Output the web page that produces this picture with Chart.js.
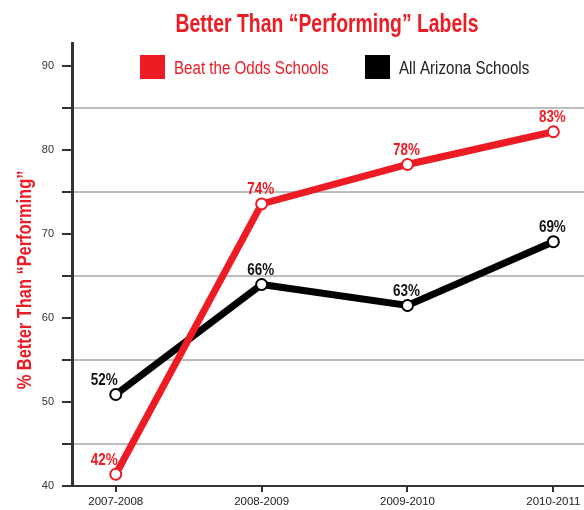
<!DOCTYPE html>
<html>
<head>
<meta charset="utf-8">
<script src="https://cdn.jsdelivr.net/npm/chart.js@4.4.1/dist/chart.umd.min.js"></script>
<style>
  html, body { margin: 0; padding: 0; background: #fff; }
  #wrap { width: 584px; height: 510px; }
</style>
</head>
<body>
<div id="wrap"><canvas id="c" width="584" height="510"></canvas></div>
<script>
const categories = ['2007-2008', '2008-2009', '2009-2010', '2010-2011'];
const beatOdds = [41.4, 73.6, 78.3, 82.2];
const arizona = [50.9, 64.0, 61.5, 69.1];
const beatOddsLabels = ['42%', '74%', '78%', '83%'];
const arizonaLabels = ['52%', '66%', '63%', '69%'];
const seriesNames = ['Beat the Odds Schools', 'All Arizona Schools'];
const chartTitle = 'Better Than \u201cPerforming\u201d Labels';
const yTitle = '% Better Than \u201cPerforming\u201d';

const RED = '#ed1c24';
const BLACK = '#000000';
const FONT = "'Liberation Sans', Arial, sans-serif";

// draw text horizontally condensed (reference uses a condensed face)
function condensedText(ctx, text, x, y, font, sx, align, color, rot) {
  ctx.save();
  ctx.translate(x, y);
  if (rot) ctx.rotate(rot);
  ctx.scale(sx, 1);
  ctx.font = font;
  ctx.fillStyle = color;
  ctx.textAlign = align;
  ctx.textBaseline = 'alphabetic';
  ctx.fillText(text, 0, 0);
  ctx.restore();
}

const textPlugin = {
  id: 'titleLegend',
  afterDraw(chart) {
    const ctx = chart.ctx;
    condensedText(ctx, chartTitle, 327, 31.5, 'bold 26px ' + FONT, 0.746, 'center', RED);
    condensedText(ctx, yTitle, 30.5, 280, 'bold 20px ' + FONT, 0.82, 'center', RED, -Math.PI / 2);
    const boxX = [140, 365];
    const textColors = [RED, '#222'];
    chart.data.datasets.forEach((ds, i) => {
      ctx.save();
      ctx.fillStyle = ds.borderColor;
      ctx.fillRect(boxX[i], 55, 25, 24);
      ctx.restore();
      condensedText(ctx, ds.label, boxX[i] + 34, 73.5, '18px ' + FONT, 0.84, 'left', textColors[i]);
    });
  }
};

const labelPlugin = {
  id: 'pointLabels',
  afterDatasetsDraw(chart) {
    const ctx = chart.ctx;
    const sets = [beatOddsLabels, arizonaLabels];
    const colors = [RED, '#111'];
    chart.data.datasets.forEach((ds, di) => {
      const meta = chart.getDatasetMeta(di);
      meta.data.forEach((pt, i) => {
        if (i === 0) {
          condensedText(ctx, sets[di][i], pt.x + 2, pt.y - 9.5, 'bold 16px ' + FONT, 0.84, 'right', colors[di]);
        } else {
          condensedText(ctx, sets[di][i], pt.x - 1, pt.y - 9.5, 'bold 16px ' + FONT, 0.84, 'center', colors[di]);
        }
      });
    });
  }
};

new Chart(document.getElementById('c'), {
  type: 'line',
  data: {
    datasets: [
      {
        label: seriesNames[0],
        data: beatOdds.map((v, i) => ({ x: i, y: v })),
        borderColor: RED,
        backgroundColor: '#fff',
        borderWidth: 7,
        pointRadius: 5.5,
        pointBorderWidth: 2,
        pointBorderColor: RED,
        pointBackgroundColor: '#fff',
        tension: 0
      },
      {
        label: seriesNames[1],
        data: arizona.map((v, i) => ({ x: i, y: v })),
        borderColor: BLACK,
        backgroundColor: '#fff',
        borderWidth: 7,
        pointRadius: 5.5,
        pointBorderWidth: 2,
        pointBorderColor: BLACK,
        pointBackgroundColor: '#fff',
        tension: 0
      }
    ]
  },
  options: {
    responsive: false,
    animation: false,
    layout: { autoPadding: false, padding: { top: 43, left: 0, right: 0, bottom: 0 } },
    plugins: {
      legend: { display: false },
      title: { display: false },
      tooltip: { enabled: false }
    },
    scales: {
      x: {
        type: 'linear',
        min: -0.3,
        max: 3.21,
        afterBuildTicks(scale) {
          scale.ticks = categories.map((c, i) => ({ value: i }));
        },
        afterFit(scale) {
          scale.height = 24;
          scale.paddingLeft = 0;
          scale.paddingRight = 0;
        },
        ticks: {
          stepSize: 1,
          autoSkip: false,
          maxRotation: 0,
          padding: 3,
          color: '#222',
          font: { family: FONT, size: 11.5 },
          callback: (v) => categories[v] ?? ''
        },
        grid: {
          drawOnChartArea: false,
          drawTicks: true,
          tickLength: 6,
          tickColor: '#333',
          lineWidth: 2
        },
        border: { display: true, color: '#333', width: 2 }
      },
      y: {
        type: 'linear',
        min: 40,
        max: 92.77,
        afterBuildTicks(scale) {
          scale.ticks = scale.ticks.filter(t => t.value % 5 === 0 && t.value <= 90);
        },
        afterFit(scale) {
          scale.width = 72;
          scale.paddingTop = 0;
          scale.paddingBottom = 0;
        },
        ticks: {
          stepSize: 5,
          padding: 8,
          color: '#333',
          font: { family: FONT, size: 11 },
          callback: (v) => (v % 10 === 0 ? String(v) : '')
        },
        grid: {
          drawTicks: true,
          tickLength: 10,
          lineWidth: 2,
          color: (c) => (c.tick && c.tick.value % 10 === 5 ? '#bdbdbd' : 'rgba(0,0,0,0)'),
          tickColor: '#333'
        },
        border: { display: true, color: '#333', width: 3 },
        title: { display: false }
      }
    }
  },
  plugins: [textPlugin, labelPlugin]
});
</script>
</body>
</html>
